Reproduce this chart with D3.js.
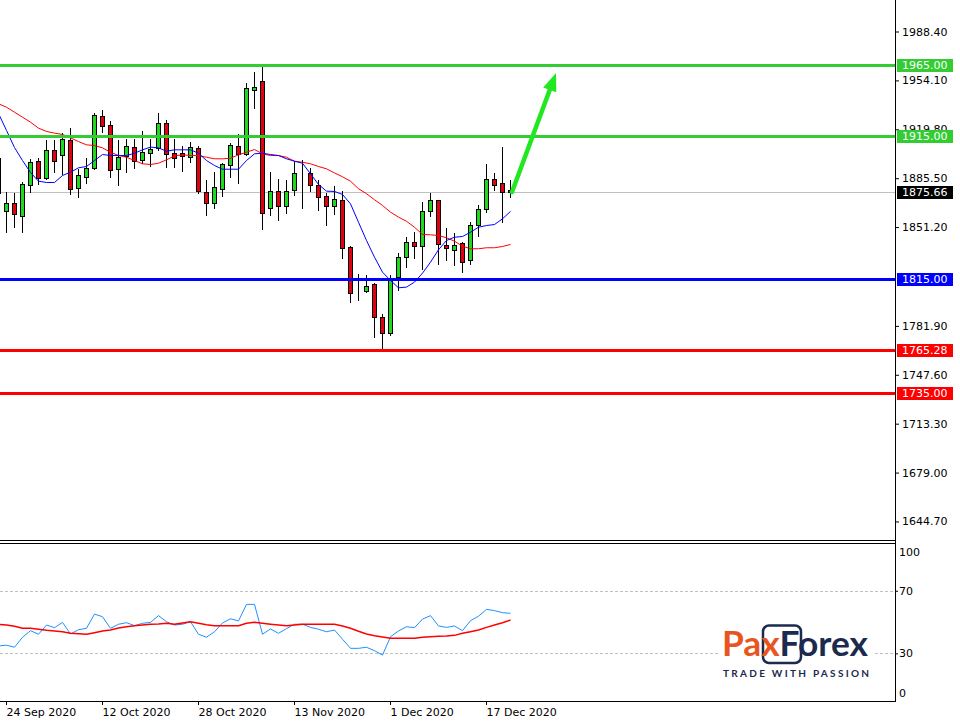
<!DOCTYPE html>
<html><head><meta charset="utf-8">
<script src="https://cdn.jsdelivr.net/npm/d3@7"></script>
<style>
html,body{margin:0;padding:0;background:#fff;}
svg{display:block;}
</style></head><body>
<svg id="c" width="960" height="721"></svg>
<script>
// ---------- DATA ----------
const dates = [
"2020-09-23","2020-09-24","2020-09-25","2020-09-28","2020-09-29","2020-09-30",
"2020-10-01","2020-10-02","2020-10-05","2020-10-06","2020-10-07","2020-10-08","2020-10-09",
"2020-10-12","2020-10-13","2020-10-14","2020-10-15","2020-10-16","2020-10-19","2020-10-20",
"2020-10-21","2020-10-22","2020-10-23","2020-10-26","2020-10-27","2020-10-28","2020-10-29","2020-10-30",
"2020-11-02","2020-11-03","2020-11-04","2020-11-05","2020-11-06","2020-11-09","2020-11-10",
"2020-11-11","2020-11-12","2020-11-13","2020-11-16","2020-11-17","2020-11-18","2020-11-19",
"2020-11-20","2020-11-23","2020-11-24","2020-11-25","2020-11-26","2020-11-27","2020-11-30",
"2020-12-01","2020-12-02","2020-12-03","2020-12-04","2020-12-07","2020-12-08","2020-12-09",
"2020-12-10","2020-12-11","2020-12-14","2020-12-15","2020-12-16","2020-12-17","2020-12-18",
"2020-12-21","2020-12-22"];

const open = [1900.0,
1862.2,1867.8,1859.3,1880.4,1897.9,1885.3,1905.6,1902.1,1912.6,1878.3,
1886.0,1893.0,1928.8,1922.5,1891.6,1901.4,1907.7,1898.6,1903.5,1907.0,
1923.9,1903.5,1903.5,1900.7,1907.0,1875.5,1867.8,1877.6,1895.1,1908.4,
1902.8,1947.7,1954.0,1864.3,1876.2,1865.7,1876.9,1888.1,1888.8,1880.4,
1872.7,1865.7,1869.9,1836.9,1806.7,1806.4,1811.0,1787.8,1776.6,1815.9,
1829.9,1840.6,1838.1,1862.8,1869.9,1838.8,1835.3,1840.2,1827.8,1853.0,
1864.0,1885.1,1882.3,1876.9];
const high = [1905.0,
1875.5,1874.8,1882.5,1899.3,1900.0,1912.0,1912.0,1916.9,1920.4,1892.3,
1900.0,1930.9,1933.0,1925.3,1912.6,1913.3,1913.3,1918.3,1913.3,1930.9,
1926.0,1913.3,1908.4,1911.2,1908.4,1883.9,1889.5,1896.5,1910.5,1916.2,
1952.6,1960.3,1963.9,1889.5,1884.6,1883.9,1897.9,1898.6,1893.0,1883.9,
1874.8,1879.7,1876.2,1837.6,1818.0,1817.3,1811.7,1789.9,1817.3,1832.7,
1843.9,1847.6,1868.7,1875.3,1870.3,1850.7,1846.9,1840.6,1855.1,1866.4,
1895.6,1889.3,1907.3,1883.9];
const low = [1870.0,
1848.1,1851.6,1848.1,1875.5,1881.1,1884.6,1889.5,1888.1,1874.1,1872.0,
1881.8,1892.3,1917.6,1886.0,1880.4,1889.5,1893.0,1896.5,1894.4,1905.6,
1893.7,1893.7,1890.2,1897.2,1874.8,1860.0,1864.3,1872.7,1886.0,1881.8,
1902.1,1934.4,1850.2,1860.0,1856.5,1861.4,1873.4,1864.3,1876.2,1863.5,
1853.0,1860.7,1829.2,1799.0,1800.4,1806.0,1773.8,1766.1,1775.2,1807.4,
1822.9,1829.7,1822.0,1859.3,1825.5,1827.8,1824.3,1819.6,1825.5,1845.3,
1861.7,1876.9,1854.6,1872.2];
const close = [1874.8,
1867.8,1860.7,1881.1,1897.2,1885.3,1905.6,1897.9,1913.3,1877.6,1887.4,
1893.0,1929.5,1921.8,1890.9,1900.7,1908.4,1897.9,1904.2,1906.3,1923.9,
1902.8,1900.0,1901.4,1907.7,1876.2,1867.8,1879.0,1895.8,1909.1,1902.8,
1949.1,1949.8,1861.4,1876.2,1865.7,1876.2,1888.8,1888.1,1880.4,1872.0,
1865.7,1870.6,1836.2,1805.3,1806.7,1809.9,1787.8,1776.6,1813.8,1829.9,
1840.8,1838.1,1862.2,1870.3,1839.5,1836.7,1838.8,1826.6,1852.8,1864.0,
1885.1,1880.4,1875.7,1875.66];

const maFast = [1930.9,
1919.0,1907.0,1897.9,1889.5,1883.4,1882.5,1882.5,1887.4,1889.7,1892.8,
1893.7,1897.9,1902.1,1901.4,1901.4,1901.4,1903.0,1905.4,1907.3,1906.8,
1904.4,1905.4,1905.4,1905.4,1903.0,1897.9,1894.4,1891.8,1891.8,1891.8,
1897.9,1902.6,1903.0,1902.1,1901.4,1899.1,1897.4,1896.0,1888.6,1881.1,
1876.4,1876.2,1874.1,1867.5,1854.6,1841.8,1830.1,1819.6,1813.8,1808.6,
1809.1,1812.6,1818.9,1826.6,1835.3,1841.8,1844.1,1844.6,1847.6,1851.1,
1852.3,1853.0,1857.0,1862.2];
const maSlow = [1937.7,
1935.3,1931.8,1928.3,1924.8,1920.6,1918.3,1917.1,1916.2,1913.8,1911.2,
1908.9,1908.4,1906.8,1903.7,1901.4,1900.2,1897.9,1895.6,1895.1,1896.0,
1898.4,1901.1,1901.9,1901.4,1901.4,1900.2,1899.1,1899.1,1899.5,1901.9,
1903.7,1905.6,1902.6,1901.4,1901.4,1900.2,1897.4,1896.7,1895.6,1893.7,
1892.1,1889.2,1886.5,1883.4,1878.1,1874.6,1870.4,1866.4,1861.7,1858.2,
1855.3,1851.1,1846.0,1845.8,1845.3,1843.7,1841.3,1837.8,1836.0,1836.0,
1836.7,1836.7,1837.6,1839.0];

const osc = [34.7,
35.2,33.9,40.3,44.5,42.2,48.1,46.4,49.8,42.4,45.1,
46.0,55.1,53.4,46.0,48.6,49.6,47.7,49.2,49.8,54.1,
50.2,48.1,48.6,50.2,42.2,40.3,43.8,49.4,52.1,50.7,
61.3,61.3,42.2,45.6,42.8,45.8,48.6,48.6,46.6,45.4,
43.8,44.9,39.0,33.2,33.2,33.9,31.7,28.9,40.6,44.3,
47.0,46.4,51.9,54.1,47.5,46.6,47.5,44.5,50.9,53.7,
58.1,57.3,56.0,55.6];
const oscSignal = [48.6,
48.1,47.3,46.0,46.0,45.4,44.7,44.3,43.8,42.8,42.6,
42.2,43.2,44.3,44.9,46.2,47.0,47.7,48.1,48.6,48.8,
49.2,48.6,49.4,50.2,49.2,48.3,47.7,47.7,47.7,47.7,
49.2,49.8,49.2,48.6,48.1,47.7,48.1,48.6,48.6,48.6,
48.6,48.6,47.5,46.0,44.1,42.4,41.3,40.4,39.6,39.6,
39.6,39.6,40.3,40.6,40.9,41.1,41.5,42.8,43.8,44.9,
46.6,48.1,49.6,51.3];

const priceTicks = [1988.40,1954.10,1919.80,1885.50,1851.20,1781.90,1747.60,1713.30,1679.00,1644.70];
const levels = [1965.00,1915.00,1815.00,1765.28,1735.00];
const levelColors = ["#33cc33","#33cc33","#0000ff","#ff0000","#ff0000"];
const lastPrice = 1875.66;
const oscTicks = [100,70,30,0];
const oscGuides = [70,30];
const dateTicks = ["2020-09-24","2020-10-12","2020-10-28","2020-11-13","2020-12-01","2020-12-17"];
const arrowFrom = {idx:64.25, price:1875.8};
const arrowTo = {idx:69.75, price:1959.3};

// ---------- LAYOUT ----------
const R = 895, mainTop = 0, mainBot = 540, oscTop = 543, oscBot = 701;
const FONT = "'DejaVu Sans', Verdana, sans-serif";
const svg = d3.select("#c");
const N = dates.length;
const x = d3.scaleLinear().domain([0, N-1]).range([-2, -2 + 8*(N-1)]);
const y = d3.scaleLinear().domain([1631.7, 2010.5]).range([mainBot, mainTop]);
const yo = d3.scaleLinear().domain([0, 100]).range([700.3, 543.8]);
const px = v => Math.round(v);

const defs = svg.append("defs");
defs.append("clipPath").attr("id","cm").append("rect").attr("x",0).attr("y",0).attr("width",R).attr("height",mainBot);
defs.append("clipPath").attr("id","co").append("rect").attr("x",0).attr("y",oscTop).attr("width",R).attr("height",oscBot-oscTop);

const main = svg.append("g").attr("clip-path","url(#cm)");

// last price line
main.append("line").attr("x1",0).attr("x2",R)
  .attr("y1",px(y(lastPrice))+0.5).attr("y2",px(y(lastPrice))+0.5)
  .attr("stroke","#c0c0c0").attr("stroke-width",1);

// candles
const idx = d3.range(N);
const cg = main.append("g");
cg.selectAll("line.w").data(idx).join("line")
  .attr("x1",i=>px(x(i))+0.5).attr("x2",i=>px(x(i))+0.5)
  .attr("y1",i=>px(y(high[i]))).attr("y2",i=>px(y(low[i]))+1)
  .attr("stroke","#000").attr("stroke-width",1);
cg.selectAll("rect.b").data(idx).join("rect")
  .attr("x",i=>px(x(i))-1.5)
  .attr("width",4)
  .attr("y",i=>px(y(Math.max(open[i],close[i])))+0.5)
  .attr("height",i=>Math.max(0, px(y(Math.min(open[i],close[i]))) - px(y(Math.max(open[i],close[i])))))
  .attr("fill",i=> close[i]>open[i] ? "#1fd91f" : (close[i]<open[i] ? "#e3000f" : "#000"))
  .attr("stroke","#000").attr("stroke-width",1);

// moving averages
const lineGen = arr => d3.line().x((d,i)=>x(i)+0.5).y(d=>y(d))(arr);
main.append("path").attr("d",lineGen(maSlow)).attr("fill","none").attr("stroke","#ff0000").attr("stroke-width",1);
main.append("path").attr("d",lineGen(maFast)).attr("fill","none").attr("stroke","#0000ff").attr("stroke-width",1);

// levels
main.selectAll("line.lv").data(levels).join("line")
  .attr("x1",0).attr("x2",R)
  .attr("y1",d=>px(y(d))+0.5).attr("y2",d=>px(y(d))+0.5)
  .attr("stroke",(d,i)=>levelColors[i]).attr("stroke-width",3);

// arrow
{
  const x1 = x(arrowFrom.idx), y1 = y(arrowFrom.price), x2 = x(arrowTo.idx), y2 = y(arrowTo.price);
  const dx = x2-x1, dy = y2-y1, L = Math.hypot(dx,dy), ux = dx/L, uy = dy/L;
  const hl = 18, hw = 7;
  const bx = x2-ux*hl, by = y2-uy*hl;
  main.append("line").attr("x1",x1).attr("y1",y1).attr("x2",bx+ux*2).attr("y2",by+uy*2)
    .attr("stroke","#22e822").attr("stroke-width",4.5).attr("stroke-linecap","round");
  main.append("path").attr("d",`M${x2},${y2}L${bx-uy*hw},${by+ux*hw}L${bx+uy*hw},${by-ux*hw}Z`)
    .attr("fill","#22e822");
}

// ---------- OSCILLATOR PANE ----------
const og = svg.append("g").attr("clip-path","url(#co)");
og.selectAll("line.g").data(oscGuides).join("line")
  .attr("x1",0).attr("x2",R)
  .attr("y1",d=>px(yo(d))+0.5).attr("y2",d=>px(yo(d))+0.5)
  .attr("stroke","#c0c0c0").attr("stroke-width",1).attr("stroke-dasharray","3,2");
const lineO = arr => d3.line().x((d,i)=>x(i)+0.5).y(d=>yo(d))(arr);
og.append("path").attr("d",lineO(osc)).attr("fill","none").attr("stroke","#1e90ff").attr("stroke-width",1);
og.append("path").attr("d",lineO(oscSignal)).attr("fill","none").attr("stroke","#ff0000").attr("stroke-width",1.5);

// ---------- FRAMES ----------
const fr = svg.append("g").attr("stroke","#000").attr("stroke-width",1);
fr.append("line").attr("x1",0).attr("x2",R+0.5).attr("y1",mainBot+0.5).attr("y2",mainBot+0.5);
fr.append("line").attr("x1",0).attr("x2",R+0.5).attr("y1",oscTop+0.5).attr("y2",oscTop+0.5);
fr.append("line").attr("x1",0).attr("x2",R+0.5).attr("y1",oscBot+0.5).attr("y2",oscBot+0.5);
fr.append("line").attr("x1",R+0.5).attr("x2",R+0.5).attr("y1",0).attr("y2",oscBot+1);

// ---------- AXES ----------
const yAxisG = svg.append("g").attr("transform",`translate(${R},0)`)
  .call(d3.axisRight(y).tickValues(priceTicks).tickSize(4).tickPadding(3).tickFormat(d3.format(".2f")));
yAxisG.select(".domain").remove();
yAxisG.attr("font-size",11).attr("font-family",FONT);
yAxisG.selectAll("text").attr("fill","#000");

// level labels
const lg = svg.append("g");
levels.forEach((d,i)=>{
  const cy = px(y(d))+0.5;
  lg.append("rect").attr("x",897).attr("y",cy-6.5).attr("width",56).attr("height",13).attr("fill",levelColors[i]);
  lg.append("text").attr("x",902).attr("y",cy).attr("dy","0.36em").attr("font-size",11).attr("font-family",FONT)
    .attr("fill","#fff").text(d3.format(".2f")(d));
});
{
  const cy = px(y(lastPrice))+0.5;
  lg.append("rect").attr("x",897).attr("y",cy-6.5).attr("width",56).attr("height",13).attr("fill","#000");
  lg.append("text").attr("x",902).attr("y",cy).attr("dy","0.36em").attr("font-size",11).attr("font-family",FONT)
    .attr("fill","#fff").text(d3.format(".2f")(lastPrice));
}

// oscillator axis
const oAxisG = svg.append("g").attr("transform",`translate(${R},0)`)
  .call(d3.axisRight(yo).tickValues(oscTicks).tickSize(3).tickPadding(1));
oAxisG.select(".domain").remove();
oAxisG.attr("font-size",11).attr("font-family",FONT);
oAxisG.selectAll("text").attr("fill","#000")
  .attr("dy", d => d===100 ? "1.05em" : (d===0 ? "-0.35em" : "0.32em"));
oAxisG.selectAll("line").attr("stroke", d => (d===100||d===0) ? "none" : "#000");

// date axis
const parse = d3.utcParse("%Y-%m-%d"), fmt = d3.utcFormat("%-d %b %Y");
const xAxisG = svg.append("g").attr("transform",`translate(0,${oscBot})`)
  .call(d3.axisBottom(x).tickValues(dateTicks.map(d=>dates.indexOf(d))).tickSize(4).tickPadding(3)
    .tickFormat(i=>fmt(parse(dates[i]))));
xAxisG.select(".domain").remove();
xAxisG.attr("font-size",11).attr("font-family",FONT);
xAxisG.selectAll("text").attr("text-anchor","start").attr("dx","0").attr("fill","#000");

// ---------- LOGO ----------
const logo = svg.append("g");
logo.append("rect").attr("x",718).attr("y",618).attr("width",156).attr("height",66).attr("fill","#fff");
logo.append("rect").attr("x",763).attr("y",625.5).attr("width",38).attr("height",37.5).attr("rx",6)
  .attr("fill","none").attr("stroke","#1c2a4e").attr("stroke-width",2.5);
const lt = logo.append("text").attr("x",722).attr("y",656).attr("font-family","Lato, 'Open Sans', sans-serif")
  .attr("font-weight",700).attr("font-size",35).attr("textLength",146).attr("lengthAdjust","spacingAndGlyphs");
lt.append("tspan").attr("fill","#e8561f").text("Pax");
lt.append("tspan").attr("fill","#1c2a4e").text("Forex");
logo.append("text").attr("x",723).attr("y",677).attr("font-family","Lato, 'Open Sans', sans-serif")
  .attr("font-weight",700).attr("font-size",10).attr("fill","#1c2a4e")
  .attr("textLength",146).attr("lengthAdjust","spacing").text("TRADE WITH PASSION");
</script>
</body></html>
